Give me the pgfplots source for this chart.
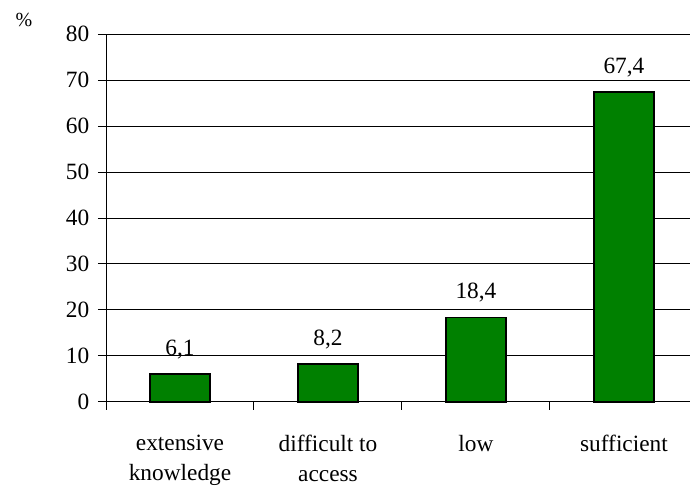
\documentclass[border=0pt]{standalone}
\usepackage{fontspec}
\setmainfont{Liberation Serif}
\newfontfamily\timesf{Liberation Serif}
\usepackage{pgfplots}
\pgfplotsset{compat=1.18}
\definecolor{bargreen}{RGB}{0,128,0}
\begin{document}
\begin{tikzpicture}
\path[use as bounding box] (0,0) rectangle (517.5pt,366pt);
\begin{axis}[
  at={(79.5pt,64.5pt)}, anchor=south west,
  scale only axis, width=438pt, height=276pt,
  xmin=-0.5, xmax=3.446, ymin=0, ymax=80,
  axis x line*=bottom, axis y line*=left,
  axis line style={line width=0.75pt, -},
  ytick={0,10,...,80},
  ymajorgrids, grid style={black, line width=0.75pt},
  xtick={0,1,2,3},
  xticklabels={{extensive\\knowledge},{difficult to\\access},{low},{sufficient}},
  xticklabel style={align=center, anchor=north, yshift=-15.5pt, font=\timesf\fontsize{17.5}{22.5}\selectfont},
  yticklabel style={xshift=-3pt, font=\timesf\fontsize{17.5}{20}\selectfont},
  minor xtick={-0.5,0.5,1.5,2.5},
  major x tick style={draw=none},
  tick align=outside,
  major tick length=6pt, minor tick length=6pt,
  tick style={black, line width=0.75pt},
  /pgf/number format/assume math mode=true,
  ybar, bar width=45pt,
  nodes near coords,
  point meta=explicit symbolic,
  every node near coord/.append style={font=\timesf\fontsize{17.5}{20}\selectfont, yshift=7.5pt},
  clip=false,
]
\addplot[draw=black, fill=bargreen, line width=1.2pt] table[meta=lab] {
x y lab
0 6.1 6,1
1 8.2 8,2
2 18.4 18,4
3 67.4 67,4
};
\end{axis}
\node[font=\timesf\fontsize{15}{17}\selectfont] at (18pt,351pt) {\%};
\end{tikzpicture}
\end{document}
